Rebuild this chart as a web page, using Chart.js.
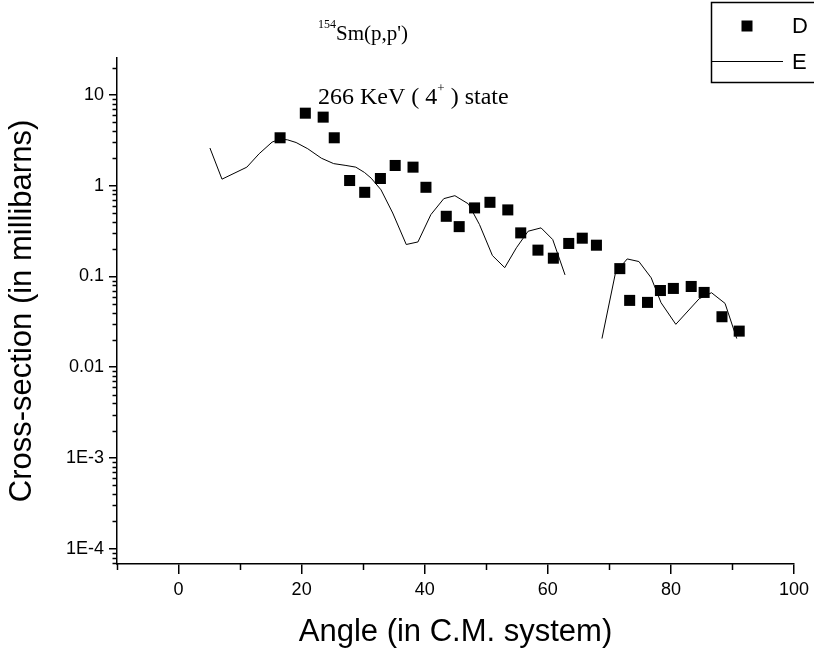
<!DOCTYPE html>
<html>
<head>
<meta charset="utf-8">
<script src="https://cdn.jsdelivr.net/npm/chart.js@4.4.1/dist/chart.umd.min.js"></script>
<style>
  body { margin: 0; background: #fff; }
  #wrap { width: 814px; height: 653px; position: relative; }
</style>
</head>
<body>
<div id="wrap"><canvas id="xsChart"></canvas></div>
<script>
// measured points (D)
const dataAngles = [16.5, 20.6, 23.5, 25.3, 27.8, 30.25, 32.8, 35.2, 38.1, 40.2, 43.5, 45.6, 48.1, 50.6, 53.5,
  55.6, 58.4, 60.9, 63.4, 65.6, 67.9, 71.7, 73.3, 76.2, 78.3, 80.4, 83.3, 85.4, 88.3, 91.1];
const dataXsec = [3.37, 6.29, 5.69, 3.37, 1.14, 0.845, 1.20, 1.67, 1.60, 0.96, 0.46, 0.354, 0.569, 0.656, 0.541,
  0.302, 0.195, 0.159, 0.231, 0.264, 0.221, 0.122, 0.0545, 0.0518, 0.070, 0.0738, 0.0776, 0.0667, 0.036, 0.025];

// calculation (E), two pieces
const calcAngles1 = [5.1, 7.06, 11.1, 13.1, 15.2, 16.5, 17.7, 19.1, 21.0, 23.2, 25.2, 27.2, 28.8, 30.2, 31.3,
  32.9, 34.8, 37.0, 38.9, 41.0, 43.1, 44.9, 47.1, 48.9, 51.0, 53.0, 54.9, 56.8, 58.9, 60.8, 62.8];
const calcXsec1 = [2.60, 1.18, 1.60, 2.25, 3.02, 3.26, 3.2, 2.99, 2.55, 2.01, 1.75, 1.67, 1.60, 1.40, 1.21,
  0.90, 0.50, 0.225, 0.24, 0.48, 0.72, 0.776, 0.63, 0.373, 0.17, 0.125, 0.207, 0.315, 0.343, 0.255, 0.104];
const calcAngles2 = [68.8, 71.0, 72.9, 74.8, 76.8, 78.4, 80.8, 84.6, 86.6, 88.8, 90.7];
const calcXsec2 = [0.0207, 0.11, 0.156, 0.146, 0.0966, 0.0514, 0.0297, 0.0569, 0.0662, 0.0505, 0.0207];

const xTicks = [0, 20, 40, 60, 80, 100];
const xMinorTicks = [-10, 10, 30, 50, 70, 90];
const yTicks = [10, 1, 0.1, 0.01, 0.001, 0.0001];
const yTickLabels = ['10', '1', '0.1', '0.01', '1E-3', '1E-4'];

const expPoints = dataAngles.map((a, i) => ({ x: a, y: dataXsec[i] }));
const calcPoints = calcAngles1.map((a, i) => ({ x: a, y: calcXsec1[i] }))
  .concat([{ x: 65, y: null }])
  .concat(calcAngles2.map((a, i) => ({ x: a, y: calcXsec2[i] })));

function drawSup(ctx, parts, x, y) {
  // parts: [text, fontSize, raise]
  parts.forEach(p => {
    ctx.font = p[1] + 'px "Liberation Serif", "Times New Roman", serif';
    ctx.fillText(p[0], x, y - p[2]);
    x += ctx.measureText(p[0]).width;
  });
}

const overlay = {
  id: 'overlay',
  afterDraw(chart) {
    const ctx = chart.ctx;
    const xs = chart.scales.x, ys = chart.scales.y;
    const left = chart.chartArea.left, bottom = chart.chartArea.bottom;
    ctx.save();
    ctx.strokeStyle = '#000';
    ctx.lineWidth = 1.5;
    // minor ticks
    for (let k = -5; k <= 1; k++) {
      for (let m = 2; m <= 9; m++) {
        const v = m * Math.pow(10, k);
        if (v < ys.min || v > ys.max) continue;
        const py = Math.round(ys.getPixelForValue(v)) + 0.5;
        ctx.beginPath(); ctx.moveTo(left - 4.5, py); ctx.lineTo(left, py); ctx.stroke();
      }
    }
    xMinorTicks.forEach(v => {
      const px = Math.round(xs.getPixelForValue(v)) + 0.5;
      ctx.beginPath(); ctx.moveTo(px, bottom); ctx.lineTo(px, bottom + 6); ctx.stroke();
    });

    ctx.fillStyle = '#000';
    ctx.textBaseline = 'alphabetic';
    ctx.textAlign = 'left';
    drawSup(ctx, [['154', 12, 12], ['Sm(p,p\')', 21, 0]], 318, 40);
    drawSup(ctx, [['266 KeV ( 4', 24, 0], ['+', 13, 12], [' ) state', 24, 0]], 318, 104);

    // legend
    ctx.lineWidth = 1.5;
    ctx.strokeRect(711.5, 2.5, 140, 80);
    ctx.fillRect(747 - 5.5, 26 - 5.5, 11, 11);
    ctx.lineWidth = 1;
    ctx.beginPath(); ctx.moveTo(711, 61.5); ctx.lineTo(783, 61.5); ctx.stroke();
    ctx.font = '22px "Liberation Sans", Arial, sans-serif';
    ctx.textBaseline = 'middle';
    ctx.fillText('D', 792, 27);
    ctx.fillText('E', 792, 63);
    ctx.restore();
  }
};

Chart.defaults.font.family = '"Liberation Sans", Arial, sans-serif';
Chart.defaults.color = '#000';

const ctx = document.getElementById('xsChart').getContext('2d');
const xsChart = new Chart(ctx, {
  type: 'scatter',
  data: {
    datasets: [{
      label: 'D',
      data: expPoints,
      pointStyle: 'rect',
      pointRadius: 7.8,
      pointHoverRadius: 7.8,
      backgroundColor: '#000',
      pointBorderWidth: 0,
      showLine: false
    }, {
      label: 'E',
      data: calcPoints,
      showLine: true,
      borderColor: '#000',
      borderWidth: 1,
      pointRadius: 0,
      spanGaps: false,
      tension: 0
    }]
  },
  options: {
    responsive: true,
    maintainAspectRatio: false,
    animation: false,
    layout: { padding: { top: 58, right: 20, left: 0, bottom: 0 } },
    plugins: { legend: { display: false }, tooltip: { enabled: false } },
    scales: {
      x: {
        type: 'linear',
        min: -10,
        max: 100,
        afterBuildTicks: s => { s.ticks = xTicks.map(v => ({ value: v })); },
        afterFit: s => { s.height = 89; },
        grid: { drawOnChartArea: false, tickLength: 10, color: '#000', lineWidth: 1.5 },
        border: { color: '#000', width: 1.5 },
        ticks: { autoSkip: false, maxRotation: 0, padding: 5, font: { size: 18 } },
        title: { display: true, text: 'Angle (in C.M. system)', font: { size: 31 }, padding: { top: 0, bottom: 2 } }
      },
      y: {
        type: 'logarithmic',
        min: 6.8e-5,
        max: 25.5,
        afterBuildTicks: s => { s.ticks = yTicks.map(v => ({ value: v })); },
        afterFit: s => { s.width = 117; },
        grid: { drawOnChartArea: false, tickLength: 8, color: '#000', lineWidth: 1.5 },
        border: { color: '#000', width: 1.5 },
        ticks: {
          autoSkip: false,
          padding: 5,
          font: { size: 18 },
          callback: v => {
            const i = yTicks.findIndex(t => Math.abs(t - v) / t < 1e-6);
            return i >= 0 ? yTickLabels[i] : '';
          }
        },
        title: { display: true, text: 'Cross-section (in millibarns)', font: { size: 31 }, padding: { top: 4, bottom: 0 } }
      }
    }
  },
  plugins: [overlay]
});
</script>
</body>
</html>
